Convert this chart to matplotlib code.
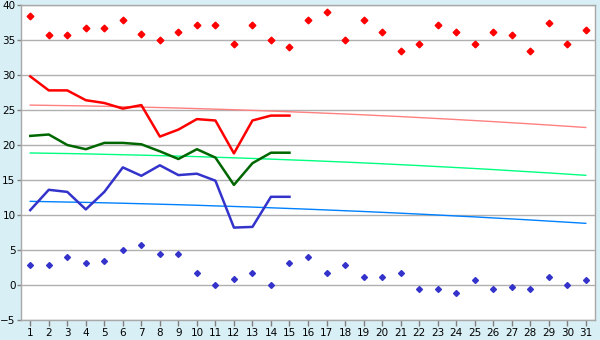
import matplotlib
matplotlib.use("Agg")
import matplotlib.pyplot as plt

days = list(range(1, 32))
days15 = list(range(1, 16))

max_points = [38.4, 35.7, 35.7, 36.7, 36.7, 37.8, 35.8, 35.0, 36.1, 37.2, 37.1, 34.5, 37.2, 35.0, 34.0,
              37.8, 39.0, 35.0, 37.8, 36.1, 33.4, 34.4, 37.2, 36.1, 34.5, 36.1, 35.7, 33.5, 37.5, 34.4, 36.4]
min_points = [2.8, 2.8, 4.0, 3.2, 3.4, 5.0, 5.7, 4.4, 4.4, 1.7, 0.0, 0.8, 1.7, 0.0, 3.2,
              4.0, 1.7, 2.8, 1.1, 1.1, 1.7, -0.6, -0.6, -1.1, 0.7, -0.6, -0.3, -0.6, 1.1, 0.0, 0.7]

max_line = [29.8, 27.8, 27.8, 26.4, 26.0, 25.2, 25.7, 21.2, 22.2, 23.7, 23.5, 18.8, 23.5, 24.2, 24.2]
mean_line = [21.3, 21.5, 20.0, 19.4, 20.3, 20.3, 20.1, 19.1, 18.0, 19.4, 18.2, 14.3, 17.4, 18.9, 18.9]
min_line = [10.7, 13.6, 13.3, 10.8, 13.3, 16.8, 15.6, 17.1, 15.7, 15.9, 14.9, 8.2, 8.3, 12.6, 12.6]

max_trend = [25.70, 25.66, 25.62, 25.58, 25.53, 25.47, 25.41, 25.35, 25.28, 25.20, 25.12, 25.04, 24.95, 24.85, 24.75,
             24.65, 24.54, 24.43, 24.31, 24.18, 24.06, 23.92, 23.78, 23.64, 23.49, 23.34, 23.18, 23.02, 22.85, 22.68, 22.50]
mean_trend = [18.86, 18.82, 18.78, 18.73, 18.67, 18.61, 18.55, 18.48, 18.41, 18.34, 18.25, 18.17, 18.08, 17.98, 17.88,
              17.78, 17.67, 17.56, 17.44, 17.32, 17.19, 17.06, 16.92, 16.78, 16.64, 16.49, 16.33, 16.17, 16.01, 15.84, 15.67]
min_trend = [11.95, 11.90, 11.85, 11.80, 11.74, 11.68, 11.61, 11.54, 11.47, 11.39, 11.30, 11.22, 11.13, 11.03, 10.93,
             10.83, 10.72, 10.61, 10.50, 10.38, 10.26, 10.13, 10.00, 9.86, 9.73, 9.58, 9.44, 9.29, 9.13, 8.97, 8.81]

y_ticks = list(range(-5, 41, 5))

bg = "#d9eff6"
fig = plt.figure(figsize=(6.0, 3.4), dpi=100, facecolor=bg)
ax = fig.add_axes([21/600, 1-320/340, 574/600, 315/340])
ax.set_facecolor("white")

for y in y_ticks:
    ax.axhline(y, color="#b0b0b0", lw=1.0, zorder=0)

ax.plot(days, max_trend, color="#ff8080", lw=1.0, zorder=2)
ax.plot(days, mean_trend, color="#00ff80", lw=1.0, zorder=2)
ax.plot(days, min_trend, color="#0080ff", lw=1.0, zorder=2)

ax.plot(days15, max_line, color="#ff0000", lw=1.8, zorder=3)
ax.plot(days15, mean_line, color="#006600", lw=1.8, zorder=3)
ax.plot(days15, min_line, color="#3333cc", lw=1.8, zorder=3)

ax.plot(days, max_points, ls="none", marker="D", ms=3.4, color="#ff0000", zorder=4)
ax.plot(days, min_points, ls="none", marker="D", ms=3.0, color="#3333cc", zorder=4)

ax.set_xlim(0.5, 31.5)
ax.set_ylim(-5, 40)
ax.set_xticks(days)
ax.set_yticks(y_ticks)
ax.tick_params(axis="both", labelsize=7.5, color="#808080", width=1)
ax.tick_params(axis="x", pad=2, length=4)
ax.tick_params(axis="y", pad=1, length=3)
for s in ax.spines.values():
    s.set_color("#a8a8a8")
    s.set_linewidth(1.0)

fig.savefig("out.png", dpi=100, facecolor=bg)
